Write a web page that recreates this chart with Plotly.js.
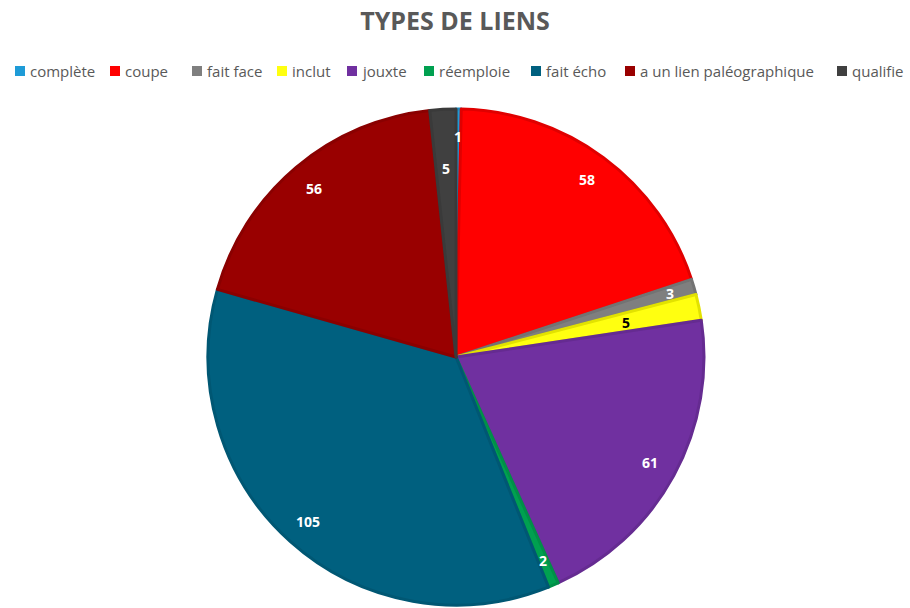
<!DOCTYPE html>
<html>
<head>
<meta charset="utf-8">
<script src="https://cdn.plot.ly/plotly-3.0.1.min.js"></script>
<style>html,body{margin:0;padding:0;background:#fff}#chart{width:910px;height:608px}</style>
</head>
<body>
<div id="chart"></div>
<script>
// ---- data ----
const categories = ["complète","coupe","fait face","inclut","jouxte","réemploie","fait écho","a un lien paléographique","qualifie"];
const values = [1, 58, 3, 5, 61, 2, 105, 56, 5];

// ---- styles ----
const fillColors = ["#1E9BD7","#FF0000","#7F7F7F","#FFFF10","#7030A0","#00A050","#00607F","#990000","#404040"];
const edgeColors = ["#1A8CC4","#E00000","#737373","#E2E200","#652B91","#009048","#005773","#8A0000","#3A3A3A"];
const labelColors = ["#FFFFFF","#FFFFFF","#FFFFFF","#000000","#FFFFFF","#FFFFFF","#FFFFFF","#FFFFFF","#FFFFFF"];
// radial position of each value label, as a fraction of the radius
const labelRadius = [0.89, 0.89, 0.9, 0.7, 0.89, 0.89, 0.89, 0.89, 0.76];

// ---- layout (positions only) ----
const W = 910, H = 608;
const cx = 456, cy = 357, R = 248;
const legendSquareX = [15, 110, 192, 277, 347, 424, 531, 625, 837];
const legendY = 71;
const domain = {x: [(cx - R) / W, (cx + R) / W], y: [1 - (cy + R) / H, 1 - (cy - R) / H]};

const traces = [{
  type: "pie", values: values, labels: categories, sort: false,
  direction: "clockwise", rotation: 0, domain: domain, showlegend: false,
  marker: {colors: fillColors, line: {color: edgeColors, width: 3}},
  textinfo: "none", hoverinfo: "label+value"
}];

// value labels placed at each slice's mid-angle, derived from the values
const total = values.reduce((a, b) => a + b, 0);
let cum = 0;
const valueLabels = values.map((v, i) => {
  const mid = (cum + v / 2) / total * 2 * Math.PI;
  cum += v;
  const r = labelRadius[i] * R;
  return {
    text: "<b>" + v + "</b>", xref: "paper", yref: "paper",
    x: (cx + r * Math.sin(mid)) / W, y: 1 - (cy - r * Math.cos(mid)) / H,
    xanchor: "center", yanchor: "middle", showarrow: false,
    font: {family: "Open Sans", size: 14, color: labelColors[i]}
  };
});

const legendLabels = categories.map((c, i) => ({
  text: c, xref: "paper", yref: "paper",
  x: (legendSquareX[i] + 13) / W, y: 1 - legendY / H,
  xanchor: "left", yanchor: "middle", showarrow: false,
  font: {family: "Open Sans", size: 15, color: "#595959"}
}));
const legendSquares = categories.map((c, i) => ({
  type: "rect", xref: "paper", yref: "paper",
  x0: legendSquareX[i] / W, x1: (legendSquareX[i] + 10) / W,
  y0: 1 - (legendY + 5) / H, y1: 1 - (legendY - 5) / H,
  fillcolor: fillColors[i], line: {width: 0}
}));

const layout = {
  width: W, height: H,
  margin: {l: 0, r: 0, t: 0, b: 0},
  paper_bgcolor: "#FFFFFF",
  title: {
    text: "<b>TYPES DE LIENS</b>", x: 0.5, xanchor: "center",
    y: 1 - 21 / H, yanchor: "middle", yref: "container",
    font: {family: "Open Sans", size: 25, color: "#595959"}
  },
  annotations: valueLabels.concat(legendLabels),
  shapes: legendSquares
};

Plotly.newPlot("chart", traces, layout, {displayModeBar: false, staticPlot: true});
</script>
</body>
</html>
